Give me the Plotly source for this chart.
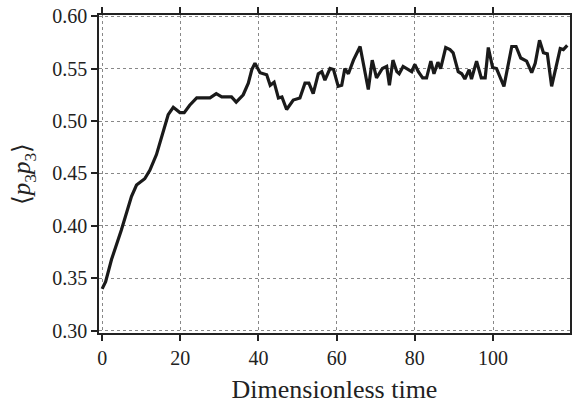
import plotly.graph_objects as go

time = [0, 0.9, 2.4, 4.9, 7.5, 8.8, 10.9, 12.2, 13.9, 15.6,
        16.9, 18.2, 19.9, 21, 22.4, 24.2, 27.6, 29.2, 30.6, 33.1,
        34.3, 36.1, 37.4, 38.3, 39.1, 40.4, 42.1, 43, 44, 45.1,
        46, 47.2, 48.9, 50.6, 51.9, 52.9, 54, 55.3, 56.2, 57,
        58.3, 59.2, 60.4, 61.3, 62.1, 63, 64.3, 66, 68.1, 69.1,
        70.2, 71.7, 72.8, 73.5, 74.4, 75.4, 76, 77, 78.3, 79.2,
        80, 80.9, 82, 83, 84.1, 84.9, 85.9, 86.6, 87.9, 89,
        89.8, 91.1, 92, 92.8, 93.9, 94.5, 95.8, 97, 98, 98.8,
        99.9, 100.9, 102.8, 104.8, 105.9, 107.1, 108.6, 109.9, 110.8, 111.9,
        112.9, 113.9, 115, 116.5, 117.2, 118, 119]

p3p3 = [0.340, 0.347, 0.368, 0.396, 0.428, 0.439, 0.445, 0.453, 0.468, 0.491,
        0.506, 0.513, 0.508, 0.508, 0.515, 0.522, 0.522, 0.526, 0.523, 0.523,
        0.518, 0.525, 0.536, 0.549, 0.555, 0.546, 0.544, 0.534, 0.537, 0.522,
        0.523, 0.511, 0.520, 0.522, 0.536, 0.536, 0.526, 0.545, 0.547, 0.539,
        0.550, 0.549, 0.533, 0.534, 0.550, 0.545, 0.558, 0.571, 0.530, 0.558,
        0.541, 0.550, 0.552, 0.534, 0.558, 0.547, 0.545, 0.552, 0.549, 0.547,
        0.554, 0.547, 0.541, 0.541, 0.557, 0.545, 0.556, 0.550, 0.570, 0.568,
        0.565, 0.547, 0.545, 0.540, 0.549, 0.540, 0.557, 0.541, 0.541, 0.570,
        0.551, 0.550, 0.533, 0.571, 0.571, 0.560, 0.557, 0.546, 0.555, 0.577,
        0.565, 0.564, 0.533, 0.558, 0.569, 0.568, 0.572]

x_ticks = [0, 20, 40, 60, 80, 100]
y_ticks = [0.30, 0.35, 0.40, 0.45, 0.50, 0.55, 0.60]
y_tick_text = ["0.30", "0.35", "0.40", "0.45", "0.50", "0.55", "0.60"]

fig = go.Figure()
fig.add_trace(go.Scatter(x=time, y=p3p3, mode="lines",
                         line=dict(color="#1a1a1a", width=3.2),
                         showlegend=False))

axis_common = dict(
    showline=True, linecolor="#222", linewidth=1.6, mirror="allticks",
    ticks="outside", ticklen=6, tickwidth=1.6, tickcolor="#222",
    showgrid=True, gridcolor="#888", griddash="dot", gridwidth=1,
    zeroline=False, automargin=False,
    tickfont=dict(family="Liberation Serif", size=20, color="#222"),
)

fig.update_layout(
    width=572, height=404,
    margin=dict(l=99, r=2, t=15, b=71),
    paper_bgcolor="white", plot_bgcolor="white",
    xaxis=dict(range=[-0.8, 119.7], tickvals=x_ticks,
               title=dict(text="Dimensionless time",
                          font=dict(family="Liberation Serif", size=26, color="#222")),
               **axis_common),
    yaxis=dict(range=[0.298, 0.601], tickvals=y_ticks, ticktext=y_tick_text,
               title=dict(text="⟨<i>p</i><sub>3</sub><i>p</i><sub>3</sub>⟩", standoff=14,
                          font=dict(family="Liberation Serif", size=25, color="#222")),
               **axis_common),
)

fig.write_html("out.html",
               config={"displayModeBar": False},
               post_script="document.body.style.margin='0';document.body.style.overflow='hidden';")
